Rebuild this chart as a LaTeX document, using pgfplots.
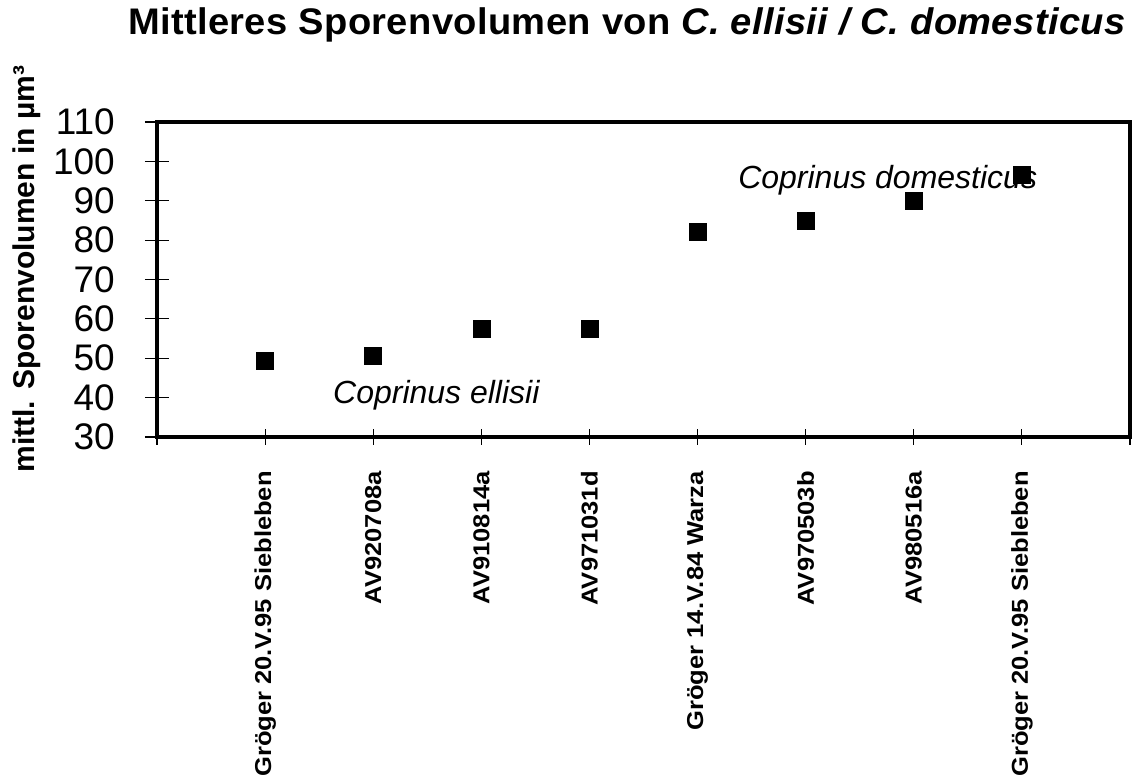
\documentclass[border=0pt]{standalone}
\usepackage{fontspec}
\setmainfont{Liberation Sans}
\newfontfamily\widefont{Liberation Sans}[FakeStretch=1.11]
\newfontfamily\titlefont{Liberation Sans}[FakeStretch=1.03,LetterSpace=1]
\usepackage{pgfplots}
\pgfplotsset{compat=1.18}
\begin{document}
\begin{tikzpicture}[x=1pt,y=1pt]
\useasboundingbox (0,0) rectangle (1139,778);
\begin{axis}[
  at={(157pt,341pt)}, anchor=south west, scale only axis,
  width=973pt, height=315pt,
  xmin=0, xmax=9, ymin=30, ymax=110,
  clip=false,
  xtick={0,...,9},
  xticklabels={{},{Gröger 20.V.95 Siebleben},{AV920708a},{AV910814a},{AV971031d},{Gröger 14.V.84 Warza},{AV970503b},{AV980516a},{Gröger 20.V.95 Siebleben},{}},
  ytick={30,40,...,110},
  tick pos=left, tick align=center, major tick length=24pt,
  xtick style={/pgfplots/major tick length=16pt},
  tick style={line width=1.2pt, black},
  axis line style={line width=4.8pt},
  xticklabel style={rotate=90, anchor=east, inner sep=0pt, font=\widefont\fontsize{23}{23}\selectfont\bfseries},
  yticklabel style={anchor=east, inner sep=0pt, font=\fontsize{37}{37}\selectfont},
  xticklabel shift=22pt,
  yticklabel shift=30pt,
  /pgf/number format/assume math mode=true,
  ylabel={mittl. Sporenvolumen in µm³},
  ylabel style={at={(axis description cs:-0.1336,0.533)}, anchor=center, font=\fontsize{30}{30}\selectfont\bfseries},
  title={\titlefont\bfseries Mittleres Sporenvolumen von \textit{C. ellisii / C. domesticus}},
  title style={at={(axis description cs:0.483,1.2603)}, anchor=base, yshift=0pt, inner sep=0pt, font=\fontsize{37}{37}\selectfont},
]
\node[anchor=base west, inner sep=0pt, font=\itshape\fontsize{32}{32}\selectfont] at (axis cs:1.628,38.6) {Coprinus ellisii};
\node[anchor=base west, inner sep=0pt, font=\itshape\fontsize{32}{32}\selectfont] at (axis cs:5.375,93.2) {Coprinus domesticus};
\addplot[only marks, mark=square*, mark size=8.5pt, mark options={fill=black, draw=black, line width=0.5pt}]
coordinates {(1,49.3) (2,50.6) (3,57.5) (4,57.5) (5,82.1) (6,85.0) (7,89.9) (8,96.5)};
\end{axis}
\end{tikzpicture}
\end{document}
